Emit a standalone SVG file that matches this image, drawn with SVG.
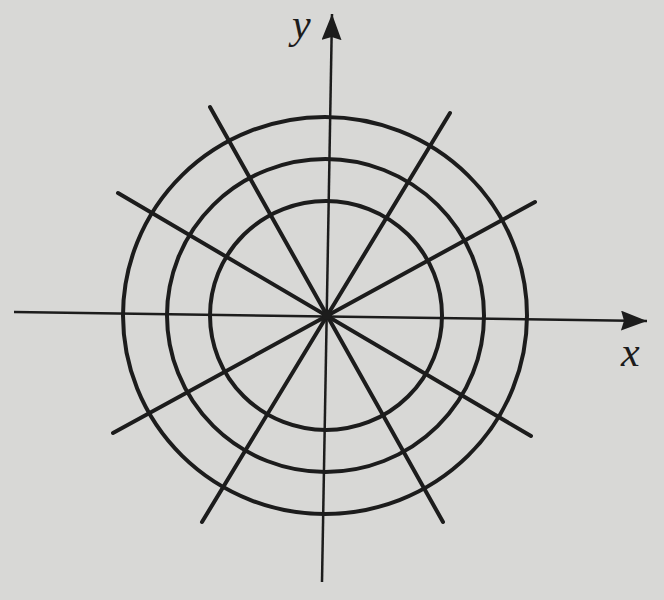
<svg xmlns="http://www.w3.org/2000/svg" width="664" height="600" viewBox="0 0 664 600">
<style>
.ring{fill:none;stroke:#1c1c1c;stroke-width:4}
.ray{stroke:#1c1c1c;stroke-width:4;stroke-linecap:round}
.axis{stroke:#1c1c1c;stroke-width:2.5;fill:none}
.lbl{font-family:"Liberation Serif",serif;font-style:italic;font-size:42px;fill:#1c1c1c}
</style>
<defs>
<marker id="ah" markerUnits="userSpaceOnUse" markerWidth="28" markerHeight="22" refX="26" refY="10" orient="auto">
<path d="M0,0 L26,10 L0,20 L3,10 Z" fill="#1c1c1c"/>
</marker>
</defs>
<rect width="664" height="600" fill="#d8d8d6"/>
<g id="connectors">
<line class="axis" x1="14" y1="312" x2="647" y2="321" marker-end="url(#ah)"/>
<line class="axis" x1="322" y1="582" x2="332" y2="14" marker-end="url(#ah)"/>
<line class="ray" x1="210" y1="107" x2="443" y2="522"/>
<line class="ray" x1="450" y1="113" x2="202" y2="522"/>
<line class="ray" x1="118" y1="193" x2="531" y2="436"/>
<line class="ray" x1="113" y1="433" x2="535" y2="202"/>
</g>
<g id="rings">
<ellipse class="ring" cx="325" cy="315.5" rx="202" ry="198.5"/>
<ellipse class="ring" cx="325.5" cy="315.5" rx="158.5" ry="156.5"/>
<ellipse class="ring" cx="326" cy="315.5" rx="116" ry="114.5"/>
</g>
<g id="origin"><circle cx="327" cy="315" r="5" fill="#1c1c1c"/></g>
<g id="labels">
<text class="lbl" x="292" y="38">y</text>
<text class="lbl" x="621" y="366">x</text>
</g>
</svg>
